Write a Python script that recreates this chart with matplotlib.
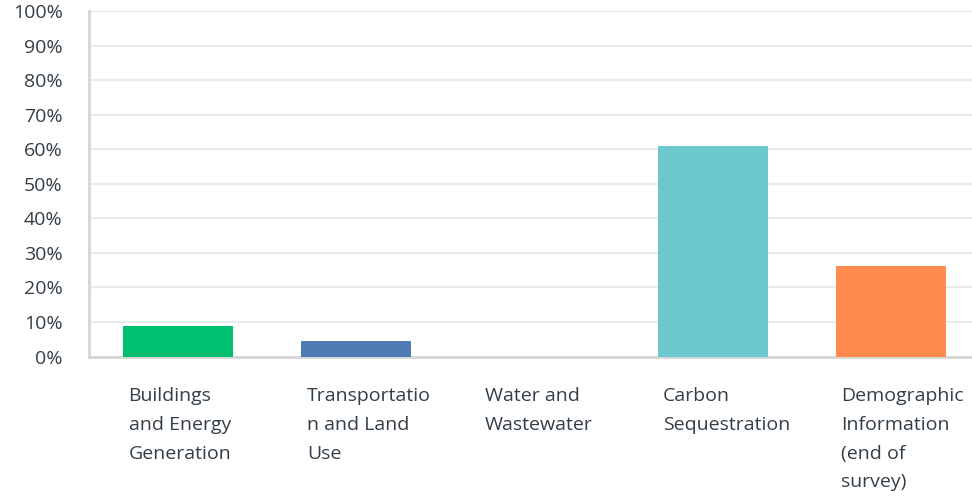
import numpy as np
import matplotlib
matplotlib.use("Agg")
from matplotlib import pyplot as plt

categories = ["Buildings\nand Energy\nGeneration",
              "Transportatio\nn and Land\nUse",
              "Water and\nWastewater",
              "Carbon\nSequestration",
              "Demographic\nInformation\n(end of\nsurvey)"]
values = [8.70, 4.35, 0.0, 60.87, 26.09]
colors = ["#00bf6f", "#507cb6", "#f9be00", "#6bc8cd", "#ff8b4f"]
yticks = [0, 10, 20, 30, 40, 50, 60, 70, 80, 90, 100]
yticks_txt = [f"{v}%" for v in yticks]

plt.rcParams['font.family'] = ['Open Sans', 'DejaVu Sans']

fig = plt.figure(figsize=(9.72, 4.96), dpi=100)
ax = fig.add_axes([89/972, (496-356.5)/496, 891/972, 345.5/496])

x = np.arange(len(categories))
w = 0.616
ax.bar(x, values, width=w, color=colors, zorder=3)

ax.set_xlim(-0.5, len(categories) - 0.5)
ax.set_ylim(0, 100)
ax.set_yticks(yticks)
ax.set_yticklabels(yticks_txt, fontsize=14, color="#333e48")
ax.yaxis.grid(True, color="#ebebeb", linewidth=1.5, zorder=0)
ax.tick_params(axis="y", length=0, pad=19)

ax.set_xticks(x - w/2 + 0.03)
ax.set_xticklabels(categories, ha="left", fontsize=14, color="#333e48", linespacing=1.77)
ax.tick_params(axis="x", length=0, pad=22)

for s in ["top", "right"]:
    ax.spines[s].set_visible(False)
for s in ["left", "bottom"]:
    ax.spines[s].set_color("#d6d6d6")
    ax.spines[s].set_linewidth(2)

fig.savefig("out.png", dpi=100)
